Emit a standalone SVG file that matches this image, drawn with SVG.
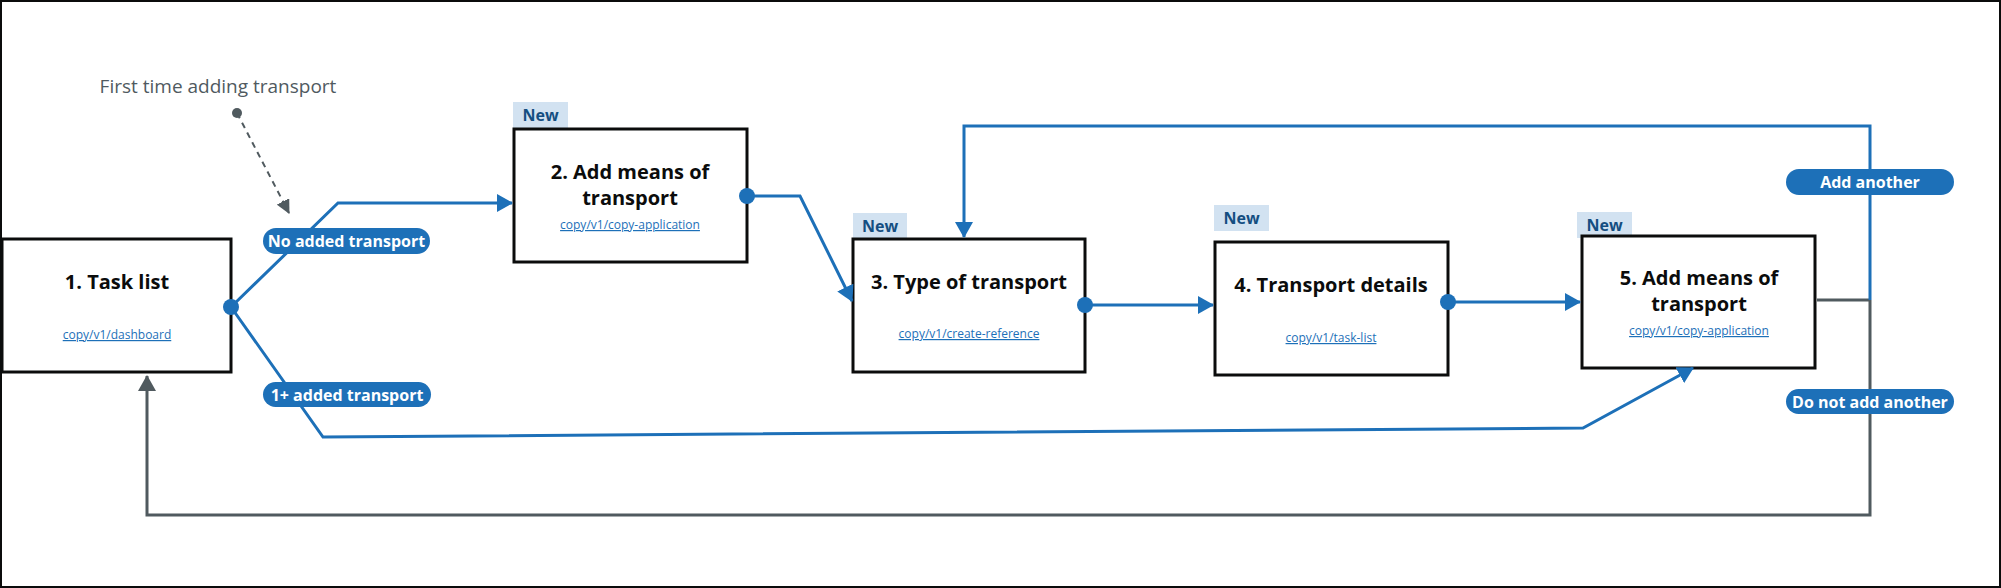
<svg xmlns="http://www.w3.org/2000/svg" width="2001" height="588" viewBox="0 0 2001 588">
<style>
text{font-family:"Open Sans","Noto Sans","Liberation Sans",sans-serif}
.box{fill:#fff;stroke:#0b0c0c;stroke-width:3}
.title{font-size:20px;font-weight:700;fill:#0b0c0c;text-anchor:middle}
.link{font-size:12px;fill:#1d70b8;text-anchor:middle;text-decoration:underline}
.tag{fill:#d2e2f1}
.tagt{font-size:16px;font-weight:700;fill:#144e81;text-anchor:middle}
.blue{fill:none;stroke:#1d70b8;stroke-width:3}
.gray{fill:none;stroke:#505a5f;stroke-width:3}
.dot{fill:#1d70b8}
.pill{fill:#1d70b8}
.pillt{font-size:16px;font-weight:700;fill:#fff;text-anchor:middle}
</style>
<defs>
<marker id="ab" markerUnits="userSpaceOnUse" markerWidth="16" markerHeight="18" refX="15" refY="9" orient="auto"><path d="M0,0L16,9L0,18z" fill="#1d70b8"/></marker>
<marker id="ag" markerUnits="userSpaceOnUse" markerWidth="16" markerHeight="18" refX="15" refY="9" orient="auto"><path d="M0,0L16,9L0,18z" fill="#505a5f"/></marker>
<marker id="agd" markerUnits="userSpaceOnUse" markerWidth="14" markerHeight="14" refX="13" refY="7" orient="auto"><path d="M0,0L14,7L0,14z" fill="#505a5f"/></marker>
</defs>
<rect x="0" y="0" width="2001" height="588" fill="#fff"/>
<rect x="1" y="1" width="1999" height="586" fill="none" stroke="#0b0c0c" stroke-width="2"/>

<g id="node1">
<rect class="box" x="2" y="239" width="229" height="133"/>
<text class="title" x="117" y="289">1. Task list</text>
<text class="link" x="117" y="339">copy/v1/dashboard</text>
</g>

<g id="node2">
<rect class="tag" x="513" y="102" width="55" height="26"/>
<text class="tagt" x="540.5" y="121">New</text>
<rect class="box" x="514" y="129" width="233" height="133"/>
<text class="title" x="630" y="179">2. Add means of</text>
<text class="title" x="630" y="205">transport</text>
<text class="link" x="630" y="229">copy/v1/copy-application</text>
</g>

<g id="node3">
<rect class="tag" x="853" y="213" width="54" height="25"/>
<text class="tagt" x="880" y="232">New</text>
<rect class="box" x="853" y="239" width="232" height="133"/>
<text class="title" x="969" y="289">3. Type of transport</text>
<text class="link" x="969" y="338">copy/v1/create-reference</text>
</g>

<g id="node4">
<rect class="tag" x="1214" y="205" width="55" height="26"/>
<text class="tagt" x="1241.5" y="224">New</text>
<rect class="box" x="1215" y="242" width="233" height="133"/>
<text class="title" x="1331" y="292">4. Transport details</text>
<text class="link" x="1331" y="342">copy/v1/task-list</text>
</g>

<g id="node5">
<rect class="tag" x="1577" y="212" width="55" height="26"/>
<text class="tagt" x="1604.5" y="231">New</text>
<rect class="box" x="1582" y="236" width="233" height="132"/>
<text class="title" x="1699" y="285">5. Add means of</text>
<text class="title" x="1699" y="311">transport</text>
<text class="link" x="1699" y="335">copy/v1/copy-application</text>
</g>

<g id="connectors">
<path class="blue" d="M231,307L338,203L512,203" marker-end="url(#ab)"/>
<path class="blue" d="M231,307L323,437L1583,428L1693,368" marker-end="url(#ab)"/>
<path class="blue" d="M747,196L800,196L852,301" marker-end="url(#ab)"/>
<path class="blue" d="M1085,305L1213,305" marker-end="url(#ab)"/>
<path class="blue" d="M1448,302L1580,302" marker-end="url(#ab)"/>
<path class="gray" d="M1817,300L1870,300"/>
<path class="blue" d="M1870,300L1870,126L964,126L964,237" marker-end="url(#ab)"/>
<path class="gray" d="M1870,300L1870,515L147,515L147,376" marker-end="url(#ag)"/>
<path fill="none" stroke="#505a5f" stroke-width="2" stroke-dasharray="6,5" d="M237,113L289,213" marker-end="url(#agd)"/>
<circle cx="237" cy="113" r="5" fill="#505a5f"/>
<circle class="dot" cx="231" cy="307" r="8"/>
<circle class="dot" cx="747" cy="196" r="8"/>
<circle class="dot" cx="1085" cy="305" r="8"/>
<circle class="dot" cx="1448" cy="302" r="8"/>
</g>

<g id="label-first">
<text x="218" y="93" font-size="19" fill="#505a5f" text-anchor="middle">First time adding transport</text>
</g>

<g id="pill-no-added">
<rect class="pill" x="263" y="228" width="167" height="26" rx="13"/>
<text class="pillt" x="346.5" y="247">No added transport</text>
</g>
<g id="pill-1plus">
<rect class="pill" x="263" y="382" width="168" height="25" rx="12.5"/>
<text class="pillt" x="347" y="400.5">1+ added transport</text>
</g>
<g id="pill-add-another">
<rect class="pill" x="1786" y="169" width="168" height="26" rx="13"/>
<text class="pillt" x="1870" y="188">Add another</text>
</g>
<g id="pill-do-not">
<rect class="pill" x="1786" y="389" width="168" height="25" rx="12.5"/>
<text class="pillt" x="1870" y="407.5">Do not add another</text>
</g>
</svg>
